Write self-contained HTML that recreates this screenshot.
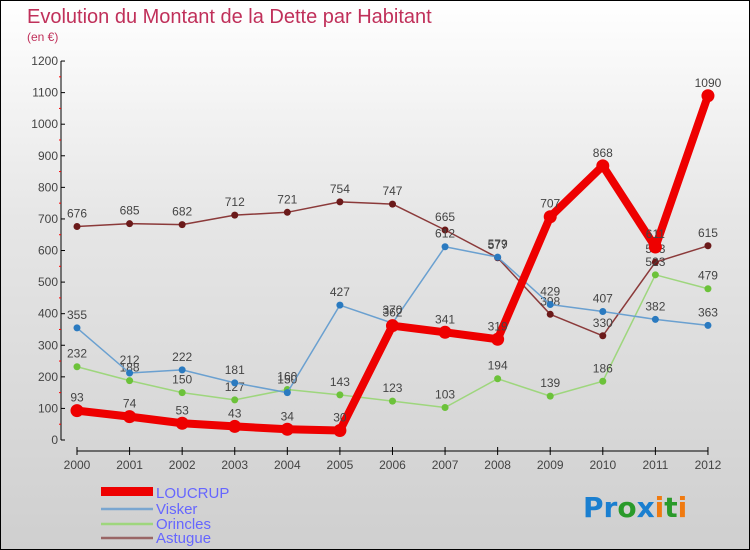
<!DOCTYPE html>
<html><head><meta charset="utf-8"><style>
body{margin:0}
#c{position:relative;width:748px;height:548px;border:1px solid #000;background:linear-gradient(#fff,#e6e6e6 40%,#cfcfcf);overflow:hidden;font-family:"Liberation Sans",sans-serif}
</style></head><body>
<div id="c">
<svg id="s" width="748" height="548" xmlns="http://www.w3.org/2000/svg">
<text x="26" y="22" font-size="20" fill="#c0305a">Evolution du Montant de la Dette par Habitant</text>
<text x="26" y="40" font-size="12" fill="#c0305a">(en €)</text>
<g id="axes"></g><g id="series"></g>
<g>
<rect x="100" y="486" width="52" height="9" fill="#e00"/>
<text x="155" y="497" font-size="15" fill="#6666ff">LOUCRUP</text>
<line x1="100" y1="508" x2="152" y2="508" stroke="#7aa6d0" stroke-width="2.5"/>
<text x="155" y="513" font-size="15" fill="#6666ff">Visker</text>
<line x1="100" y1="523" x2="152" y2="523" stroke="#9ed67d" stroke-width="2.5"/>
<text x="155" y="528" font-size="15" fill="#6666ff">Orincles</text>
<line x1="100" y1="537" x2="152" y2="537" stroke="#996666" stroke-width="2.5"/>
<text x="155" y="542" font-size="15" fill="#6666ff">Astugue</text>
</g>
<text x="582" y="516" font-size="28" font-weight="bold" font-family="'DejaVu Sans',sans-serif"><tspan fill="#1a7fd0">Pr</tspan><tspan fill="#2a9a2a">o</tspan><tspan fill="#1a7fd0">x</tspan><tspan fill="#f07a10">i</tspan><tspan fill="#2a9a2a">t</tspan><tspan fill="#f07a10">i</tspan></text>
</svg></div>
<script>
const years=[2000,2001,2002,2003,2004,2005,2006,2007,2008,2009,2010,2011,2012];
const yTicks=[0,100,200,300,400,500,600,700,800,900,1000,1100,1200];
const loucrup=[93,74,53,43,34,30,362,341,319,707,868,611,1090];
const visker=[355,212,222,181,150,427,370,612,579,429,407,382,363];
const orincles=[232,188,150,127,160,143,123,103,194,139,186,523,479];
const astugue=[676,685,682,712,721,754,747,665,577,398,330,563,615];
const NS="http://www.w3.org/2000/svg";
function X(i){return 76+i*52.58;}
function Y(v){return 439-v*0.3158;}
function mk(t,a,p){const e=document.createElementNS(NS,t);for(const k in a)e.setAttribute(k,a[k]);p.appendChild(e);return e;}
const ax=document.getElementById('axes'),sr=document.getElementById('series');
let yl=mk('line',{x1:60,y1:Y(1200),x2:60,y2:439,stroke:'#000'},ax);


yTicks.forEach(v=>{
 mk('line',{x1:60,y1:Y(v),x2:64,y2:Y(v),stroke:'#000'},ax);
 if(v<1200)mk('line',{x1:58,y1:Y(v+50),x2:60,y2:Y(v+50),stroke:'#f00'},ax);
 const t=mk('text',{x:57,y:Y(v)+4,'font-size':12,'text-anchor':'end',fill:'#444'},ax);t.textContent=v;
 
 
});
let xl=mk('line',{x1:X(0),y1:450,x2:X(12),y2:450,stroke:'#000'},ax);


years.forEach((y,i)=>{
 mk('line',{x1:X(i),y1:446,x2:X(i),y2:454,stroke:'#000'},ax);
 const t=mk('text',{x:X(i),y:468,'font-size':12,'text-anchor':'middle',fill:'#444'},ax);t.textContent=y;
 
 
});
function series(d,col,dot,w,r,name){
 const g=mk('g',{},sr);
 
 
 mk('polyline',{points:d.map((v,i)=>X(i)+','+Y(v)).join(' '),fill:'none',stroke:col,'stroke-width':w,'stroke-linejoin':'round'},g);
 d.forEach((v,i)=>{
  const c=mk('circle',{cx:X(i),cy:Y(v),r:r,fill:dot},g);
  
  
  const t=mk('text',{x:X(i),y:Y(v)-9,'font-size':12,'text-anchor':'middle',fill:'#444'},g);t.textContent=v;
 });
}
series(astugue,'#8b3a3a','#6b1a1a',1.5,3.5,'astugue');
series(orincles,'#9ed67d','#6cc23a',1.5,3.5,'orincles');
series(visker,'#6aa0d0','#2a7ac0',1.5,3.5,'visker');
series(loucrup,'#e00','#e00',8,6.5,'loucrup');
</script>
</body></html>
